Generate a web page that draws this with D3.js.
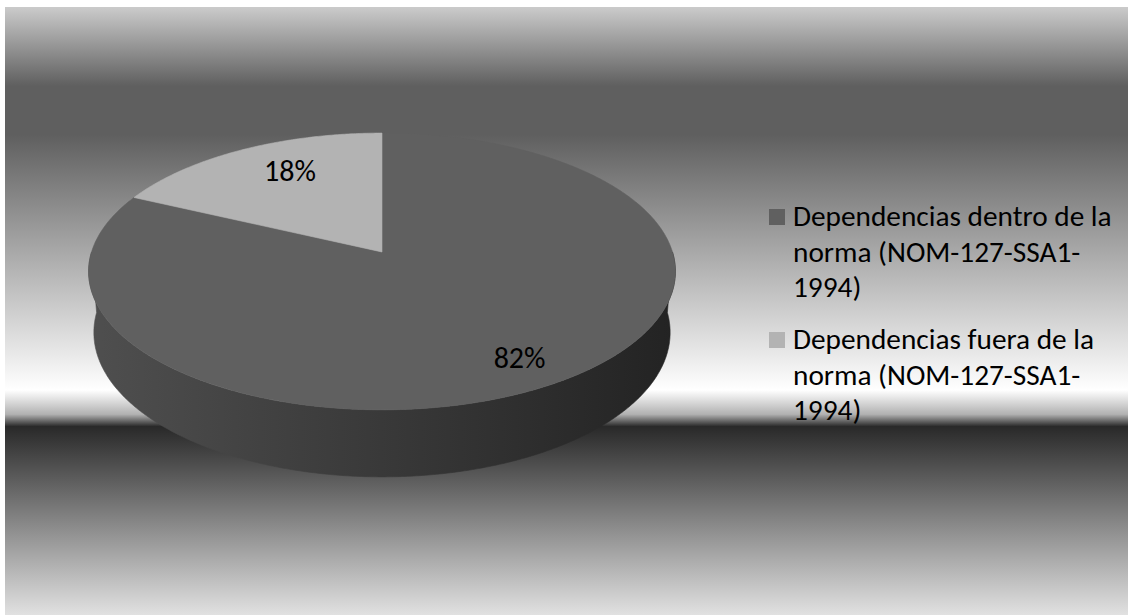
<!DOCTYPE html>
<html>
<head>
<meta charset="utf-8">
<script src="https://cdn.jsdelivr.net/npm/d3@7/dist/d3.min.js"></script>
<style>
  html, body { margin: 0; padding: 0; background: #ffffff; }
  svg { display: block; }
  text { font-family: Carlito, Lato, "Open Sans", sans-serif; fill: #000; }
</style>
</head>
<body>
<svg id="chart" width="1128" height="615"></svg>
<script>
// ---- data ----
const categories = [
  "Dependencias dentro de la norma (NOM-127-SSA1-1994)",
  "Dependencias fuera de la norma (NOM-127-SSA1-1994)"
];
const values = [82, 18];
const legendLines = [
  ["Dependencias dentro de la", "norma (NOM-127-SSA1-", "1994)"],
  ["Dependencias fuera de la", "norma (NOM-127-SSA1-", "1994)"]
];
const topColors = ["#606060", "#b3b3b3"];

// ---- layout ----
const frame = { x: 5, y: 7, w: 1123, h: 608 };
const svg = d3.select("#chart");
const defs = svg.append("defs");

// chrome-style background gradient
const bg = defs.append("linearGradient").attr("id", "bgGrad")
  .attr("x1", 0).attr("y1", 0).attr("x2", 0).attr("y2", 1);
[[0, "#cbcbcb"], [0.13, "#5f5f5f"], [0.21, "#5f5f5f"], [0.63, "#ffffff"],
 [0.67, "#b1b1b1"], [0.69, "#292929"], [1, "#e1e1e1"]]
  .forEach(([o, c]) => bg.append("stop").attr("offset", o).attr("stop-color", c));

svg.append("rect")
  .attr("x", frame.x).attr("y", frame.y)
  .attr("width", frame.w).attr("height", frame.h)
  .attr("fill", "url(#bgGrad)");

// ---- 3D pie projection ----
// unit-radius disc, Y up, Z toward viewer; camera tilted down by phi with perspective
const cam = { cx: 382, cy: 252, f: 1827, D: 6.29, phi: Math.asin(0.467), h: 0.24 };
const sinP = Math.sin(cam.phi), cosP = Math.cos(cam.phi);
function project(X, Y, Z) {
  const yc = Y * cosP - Z * sinP;
  const zc = Y * sinP + Z * cosP;
  const depth = cam.D - zc;
  return [cam.cx + cam.f * X / depth, cam.cy - cam.f * yc / depth];
}
// angle measured clockwise from 12 o'clock (back of the disc)
const rim = (a, Y, k = 1) => project(k * Math.sin(a), Y, -k * Math.cos(a));

const pie = d3.pie().sort(null).value(d => d).startAngle(0).endAngle(2 * Math.PI);
const arcs = pie(values);

// side wall shading, darker toward the right
const wallGrad = defs.append("linearGradient").attr("id", "wallGrad")
  .attr("gradientUnits", "userSpaceOnUse")
  .attr("x1", 88).attr("y1", 0).attr("x2", 675).attr("y2", 0);
wallGrad.append("stop").attr("offset", 0).attr("stop-color", "#4f4f4f");
wallGrad.append("stop").attr("offset", 1).attr("stop-color", "#232323");

const line = d3.line();
const step = Math.PI / 360;
function rimPoints(a0, a1, Y) {
  const n = Math.max(2, Math.ceil((a1 - a0) / step));
  return d3.range(n + 1).map(j => rim(a0 + (a1 - a0) * j / n, Y));
}

// outer walls: only the front half of the cylinder can face the viewer
const frontFrom = Math.PI / 2, frontTo = 3 * Math.PI / 2;
const gWall = svg.append("g");
arcs.forEach(d => {
  const a0 = Math.max(d.startAngle, frontFrom);
  const a1 = Math.min(d.endAngle, frontTo);
  if (a1 <= a0) return;
  const pts = rimPoints(a0, a1, 0).concat(rimPoints(a0, a1, -cam.h).reverse());
  gWall.append("path")
    .attr("d", line(pts) + "Z")
    .attr("fill", "url(#wallGrad)")
    .attr("stroke", "url(#wallGrad)")
    .attr("stroke-width", 0.6);
});

// top faces
const gTop = svg.append("g");
arcs.forEach((d, i) => {
  const pts = [project(0, 0, 0)].concat(rimPoints(d.startAngle, d.endAngle, 0));
  gTop.append("path")
    .attr("d", line(pts) + "Z")
    .attr("fill", topColors[i])
    .attr("stroke", topColors[i])
    .attr("stroke-width", 0.6);
});

// percentage labels
const total = d3.sum(values);
const labelRadius = [0.80, 0.636];
const labelShift = [4, -14];
arcs.forEach((d, i) => {
  const mid = (d.startAngle + d.endAngle) / 2;
  const [x, y] = rim(mid, 0, labelRadius[i]);
  svg.append("text")
    .attr("x", x).attr("y", y + labelShift[i])
    .attr("dy", "0.35em")
    .attr("text-anchor", "middle")
    .style("font-size", "30px")
    .text(d3.format(".0%")(d.data / total));
});

// legend
const legend = svg.append("g").attr("transform", "translate(769,0)");
const itemTop = [209, 332];
const lineGap = 35.5;
legendLines.forEach((lines, i) => {
  const g = legend.append("g").attr("transform", `translate(0,${itemTop[i]})`);
  g.append("rect").attr("width", 16).attr("height", 16).attr("fill", topColors[i]);
  const t = g.append("text").attr("x", 24).attr("y", 17).style("font-size", "29.3px");
  lines.forEach((s, j) => {
    t.append("tspan").attr("x", 24).attr("dy", j === 0 ? 0 : lineGap).text(s);
  });
});
</script>
</body>
</html>
